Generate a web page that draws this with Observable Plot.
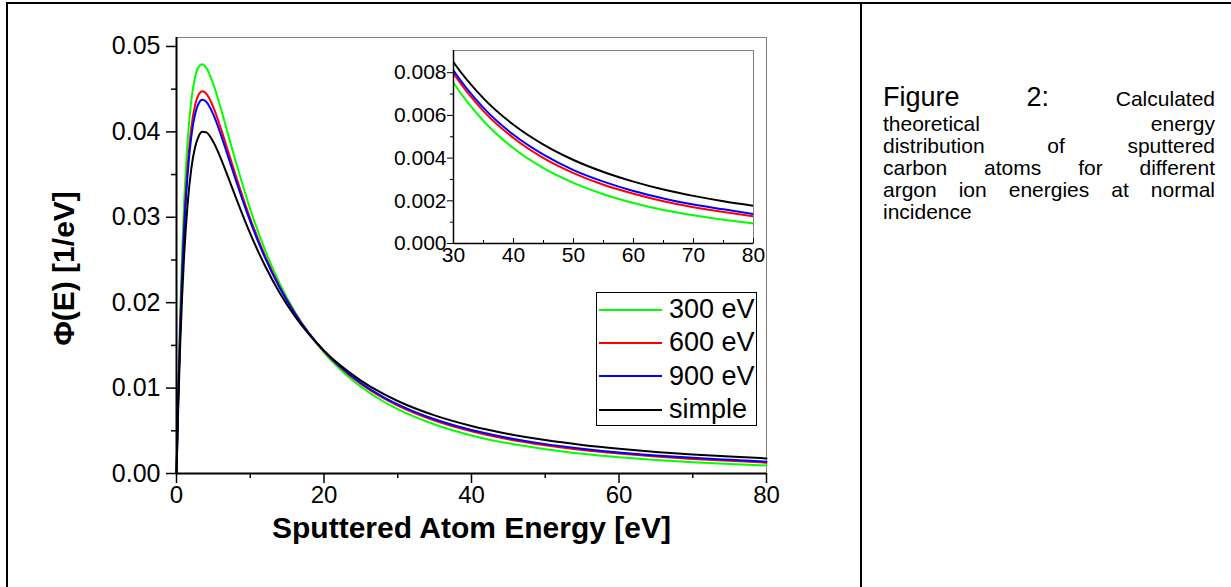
<!DOCTYPE html>
<html><head><meta charset="utf-8">
<script src="https://cdn.jsdelivr.net/npm/d3@7"></script>
<script src="https://cdn.jsdelivr.net/npm/@observablehq/plot@0.6"></script>
<style>
body{margin:0;background:#fff;font-family:"Liberation Sans",Arial,sans-serif;}
#page{position:relative;width:1231px;height:587px;overflow:hidden;background:#fff;}
.bar{position:absolute;background:#000;}
#main{position:absolute;left:0;top:0;}
#inset{position:absolute;left:380px;top:30px;}
#legend{position:absolute;left:596px;top:292px;width:159px;height:132px;border:1px solid #000;background:#fff;}
.row{position:absolute;left:0;height:33px;display:flex;align-items:center;}
.sw{width:63px;height:0;border-top:2px solid;margin-left:2px;margin-right:7px;}
.lab{font-size:27px;color:#000;}
#caption{position:absolute;left:883px;top:86px;width:332px;color:#000;}
.cl{height:22px;line-height:22px;font-size:21px;text-align:justify;text-align-last:justify;}
.cl.first{height:27px;}
.cl.last{text-align:left;text-align-last:left;}
.big{font-size:27px;}
</style>
</head><body>
<div id="page">
  <div class="bar" style="left:6px;top:2px;width:1225px;height:2px;"></div>
  <div class="bar" style="left:6px;top:2px;width:2px;height:585px;"></div>
  <div class="bar" style="left:860px;top:2px;width:2px;height:585px;"></div>
  <div id="main"></div>
  <div id="inset"></div>
  <div id="legend"></div>
  <div id="caption"></div>
</div>
<script>
// ---- data ----
const energy = [0, 0.25, 0.5, 0.75, 1, 1.5, 2, 2.5, 3, 3.5, 4, 5, 6, 7, 8, 9, 10, 12, 14, 16, 18, 20, 22, 25, 28, 30, 35, 40, 45, 50, 55, 60, 65, 70, 75, 80];
const ev300 = [0, 0.01038, 0.01880, 0.02558, 0.03103, 0.03883, 0.04363, 0.04634, 0.04762, 0.04792, 0.04755, 0.04556, 0.04276, 0.03968, 0.03661, 0.03369, 0.03095, 0.02618, 0.02223, 0.01900, 0.01636, 0.01417, 0.01234, 0.01016, 0.00846, 0.00753, 0.00574, 0.00446, 0.00353, 0.00284, 0.00231, 0.00190, 0.00157, 0.00132, 0.00111, 0.00094];
const ev600 = [0, 0.00952, 0.01727, 0.02354, 0.02859, 0.03588, 0.04042, 0.04305, 0.04436, 0.04476, 0.04452, 0.04288, 0.04044, 0.03772, 0.03497, 0.03234, 0.02985, 0.02548, 0.02185, 0.01885, 0.01637, 0.01431, 0.01258, 0.01049, 0.00885, 0.00796, 0.00620, 0.00494, 0.00400, 0.00330, 0.00275, 0.00233, 0.00198, 0.00170, 0.00148, 0.00127];
const ev900 = [0, 0.00925, 0.01678, 0.02289, 0.02781, 0.03494, 0.03940, 0.04200, 0.04332, 0.04375, 0.04355, 0.04202, 0.03971, 0.03710, 0.03446, 0.03191, 0.02951, 0.02527, 0.02173, 0.01880, 0.01638, 0.01435, 0.01266, 0.01060, 0.00898, 0.00810, 0.00635, 0.00509, 0.00416, 0.00344, 0.00290, 0.00246, 0.00211, 0.00183, 0.00160, 0.00138];
const simple = [0, 0.00826, 0.01501, 0.02051, 0.02497, 0.03149, 0.03564, 0.03813, 0.03947, 0.04000, 0.03996, 0.03881, 0.03691, 0.03470, 0.03242, 0.03020, 0.02809, 0.02432, 0.02114, 0.01848, 0.01626, 0.01439, 0.01281, 0.01088, 0.00934, 0.00849, 0.00680, 0.00556, 0.00463, 0.00391, 0.00335, 0.00290, 0.00253, 0.00223, 0.00198, 0.00177];

const seriesNames = ["300 eV", "600 eV", "900 eV", "simple"];
const seriesColors = ["#00ff00", "#ff0000", "#0000ff", "#000000"];
const seriesValues = [ev300, ev600, ev900, simple];

const xMajor = [0, 20, 40, 60, 80];
const xMinor = [10, 30, 50, 70];
const yMajor = [0, 0.01, 0.02, 0.03, 0.04, 0.05];
const yMinor = [0.005, 0.015, 0.025, 0.035, 0.045];
const xDomain = [0, 80];
const yDomain = [0, 0.05105];

const insetXMajor = [30, 40, 50, 60, 70, 80];
const insetXMinor = [35, 45, 55, 65, 75];
const insetYMajor = [0, 0.002, 0.004, 0.006, 0.008];
const insetYMinor = [0.001, 0.003, 0.005, 0.007];
const insetXDomain = [30, 80];
const insetYDomain = [0, 0.00904];

const xTitle = "Sputtered Atom Energy [eV]";
const yTitle = "Φ(E) [1/eV]";
const captionLines = [
  ["Figure", "2:", "Calculated"],
  ["theoretical", "energy"],
  ["distribution", "of", "sputtered"],
  ["carbon", "atoms", "for", "different"],
  ["argon", "ion", "energies", "at", "normal"],
  ["incidence"]
];

// ---- build ----
const fam = '"Liberation Sans", Arial, sans-serif';
const rows = [];
seriesNames.forEach((name, s) => energy.forEach((e, i) => rows.push({E: e, v: seriesValues[s][i], name})));

const main = Plot.plot({
  width: 861, height: 587,
  marginLeft: 176, marginRight: 95, marginTop: 37, marginBottom: 114,
  style: {fontFamily: fam, background: "transparent", color: "#000", overflow: "visible"},
  x: {domain: xDomain, label: null},
  y: {domain: yDomain, label: null},
  color: {domain: seriesNames, range: seriesColors},
  marks: [
    Plot.frame({stroke: "#808080", strokeWidth: 1}),
    Plot.line(rows, {x: "E", y: "v", z: "name", stroke: "name", strokeWidth: 2, curve: "monotone-x"}),
    Plot.axisX({ticks: xMajor, tickSize: 10, tickPadding: 2, fontSize: 24, tickFormat: d => String(d), strokeWidth: 1.5, label: null}),
    Plot.axisX({ticks: xMinor, tickSize: 5, tickFormat: () => "", strokeWidth: 1.5, label: null}),
    Plot.axisY({ticks: yMajor, tickSize: 10, tickPadding: 6, fontSize: 25, tickFormat: d3.format(".2f"), strokeWidth: 1.5, label: null}),
    Plot.axisY({ticks: yMinor, tickSize: 5, tickFormat: () => "", strokeWidth: 1.5, label: null}),
    Plot.ruleX([xDomain[0]], {strokeWidth: 2}),
    Plot.ruleY([yDomain[0]], {strokeWidth: 2}),
    Plot.text([yTitle], {text: d => d, frameAnchor: "left", textAnchor: "middle", dx: -112, dy: 13, rotate: -90, fontSize: 30, fontWeight: "bold"}),
    Plot.text([xTitle], {text: d => d, frameAnchor: "bottom", dy: 64, fontSize: 30, fontWeight: "bold"})
  ]
});
document.getElementById("main").appendChild(main);

const inset = Plot.plot({
  width: 400, height: 250,
  marginLeft: 73, marginRight: 27, marginTop: 20, marginBottom: 37,
  style: {fontFamily: fam, background: "transparent", color: "#000", overflow: "visible"},
  x: {domain: insetXDomain, label: null},
  y: {domain: insetYDomain, label: null},
  color: {domain: seriesNames, range: seriesColors},
  marks: [
    Plot.frame({stroke: "#808080", strokeWidth: 1}),
    Plot.line(rows, {x: "E", y: "v", z: "name", stroke: "name", strokeWidth: 2, curve: "monotone-x", clip: true}),
    Plot.axisY({ticks: insetYMajor, tickSize: 6, tickPadding: 1, fontSize: 21, tickFormat: d3.format(".3f"), label: null}),
    Plot.axisY({ticks: insetYMinor, tickSize: 3, tickFormat: () => "", label: null}),
    Plot.axisX({ticks: insetXMajor, tickSize: 0, tickPadding: 4, fontSize: 21, tickFormat: d => String(d), label: null}),
    Plot.axisX({ticks: insetXMajor, tickSize: -5, tickFormat: () => "", label: null}),
    Plot.axisX({ticks: insetXMinor, tickSize: -3, tickFormat: () => "", label: null}),
    Plot.ruleX([insetXDomain[0]], {strokeWidth: 1.5}),
    Plot.ruleY([insetYDomain[0]], {strokeWidth: 1.5})
  ]
});
document.getElementById("inset").appendChild(inset);

// legend
const legend = document.getElementById("legend");
seriesNames.forEach((name, i) => {
  const r = document.createElement("div");
  r.className = "row";
  r.style.top = (i * 33.4) + "px";
  const sw = document.createElement("span");
  sw.className = "sw";
  sw.style.borderTopColor = seriesColors[i];
  const lb = document.createElement("span");
  lb.className = "lab";
  lb.textContent = name;
  r.appendChild(sw); r.appendChild(lb);
  legend.appendChild(r);
});

// caption
const cap = document.getElementById("caption");
captionLines.forEach((words, li) => {
  const d = document.createElement("div");
  d.className = "cl" + (li === 0 ? " first" : "") + (li === captionLines.length - 1 ? " last" : "");
  if (li === 0) {
    d.innerHTML = '<span class="big">' + words[0] + '</span> <span class="big">' + words[1] + '</span> ' + words[2];
  } else {
    d.textContent = words.join(" ");
  }
  cap.appendChild(d);
});
</script>
</body></html>
